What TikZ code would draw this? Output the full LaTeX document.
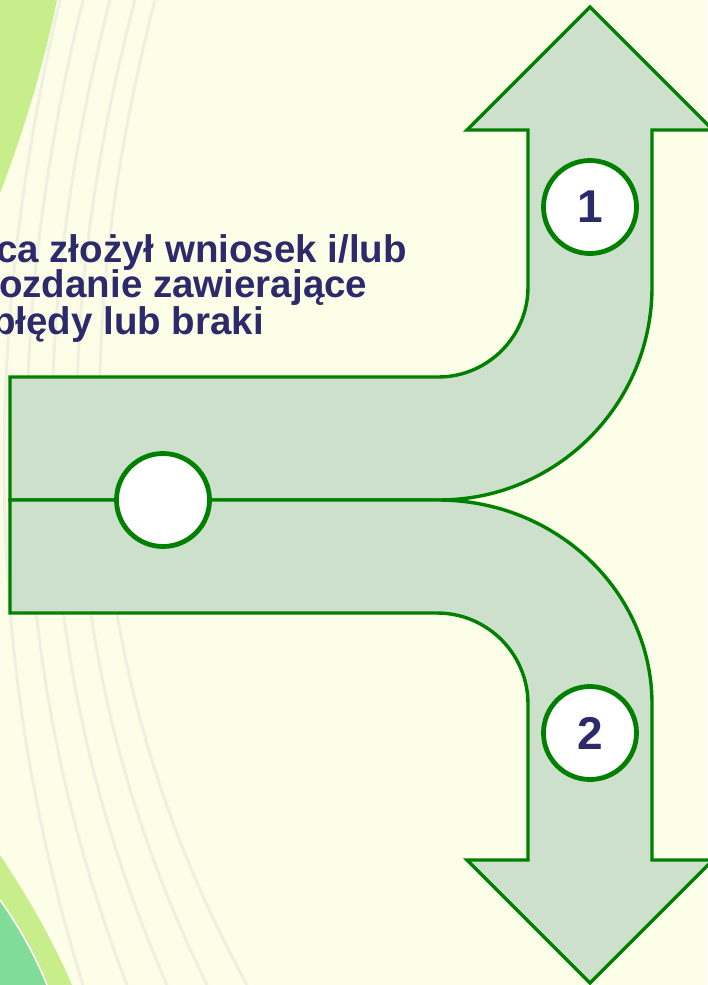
\documentclass[tikz,border=0pt]{standalone}
\usepackage{fontspec}
\setmainfont{Liberation Sans}
\usepackage{xcolor}
\definecolor{paper}{HTML}{FDFEE8}
\definecolor{leaf}{HTML}{C8EE8C}
\definecolor{sea}{HTML}{80DC98}
\definecolor{streak}{HTML}{EFEFE2}
\definecolor{pipefill}{HTML}{CCE0CC}
\definecolor{pipeline}{HTML}{008000}
\definecolor{ink}{HTML}{2C2A6B}

\begin{document}
\begin{tikzpicture}[x=1pt, y=-1pt,
			pipe/.style={fill=pipefill, draw=pipeline, line width=3.4pt},
			station/.style={circle, fill=white, draw=pipeline, line width=4.8pt, minimum size=93pt, inner sep=0pt,
				font=\bfseries\fontsize{46}{46}\selectfont, text=ink},
			question/.style={anchor=base west, inner sep=0pt, font=\bfseries\fontsize{38.5}{38.5}\selectfont, text=ink}]
			
			\fill[paper] (0,0) rectangle (707,985);
			\useasboundingbox (0,0) rectangle (707,985);
			\foreach \top/\mid/\bot in {60/-18/83, 83/2/127, 110/25/167, 135/48/207, 155/70/247}
				\draw[streak, line width=3pt] (\top,0) .. controls (\mid,330) and (\mid,660) .. (\bot,985);
			\fill[leaf] (0,0) -- (57,0) .. controls (44,63) and (25,128) .. (0,193) -- cycle;
			\fill[leaf] (0,855) .. controls (30,900) and (55,945) .. (72,985) -- (0,985) -- cycle;
			\fill[sea] (0,900) .. controls (18,925) and (35,955) .. (47,985) -- (0,985) -- cycle;
			\draw[white, line width=1.5pt] (0,900) .. controls (18,925) and (35,955) .. (47,985);
			
			\draw[pipe] (10,377) -- (438,377) arc[start angle=90, end angle=0, radius=90]
				-- (528,130) -- (467,130) -- (590,7) -- (713,130) -- (652,130) -- (652,287)
				arc[start angle=0, end angle=90, radius=213] -- (10,500) -- cycle;
			\draw[pipe] (10,500) -- (438,500) arc[start angle=-90, end angle=0, x radius=214, y radius=204]
				-- (652,860) -- (713,860) -- (590,983) -- (467,860) -- (528,860) -- (528,704)
				arc[start angle=0, end angle=-90, radius=91] -- (10,613) -- cycle;
			
			\node[station] (start) at (163,500) {};
			\node[station] (one) at (590,207) {1};
			\node[station] (two) at (590,733) {2};
			
			\node[question] (line1) at (-4,262) {ca złożył wniosek i/lub};
			\node[question] (line2) at (-1,297) {ozdanie zawierające};
			\node[question] (line3) at (-8,334) {błędy lub braki};
		\end{tikzpicture}
\end{document}
